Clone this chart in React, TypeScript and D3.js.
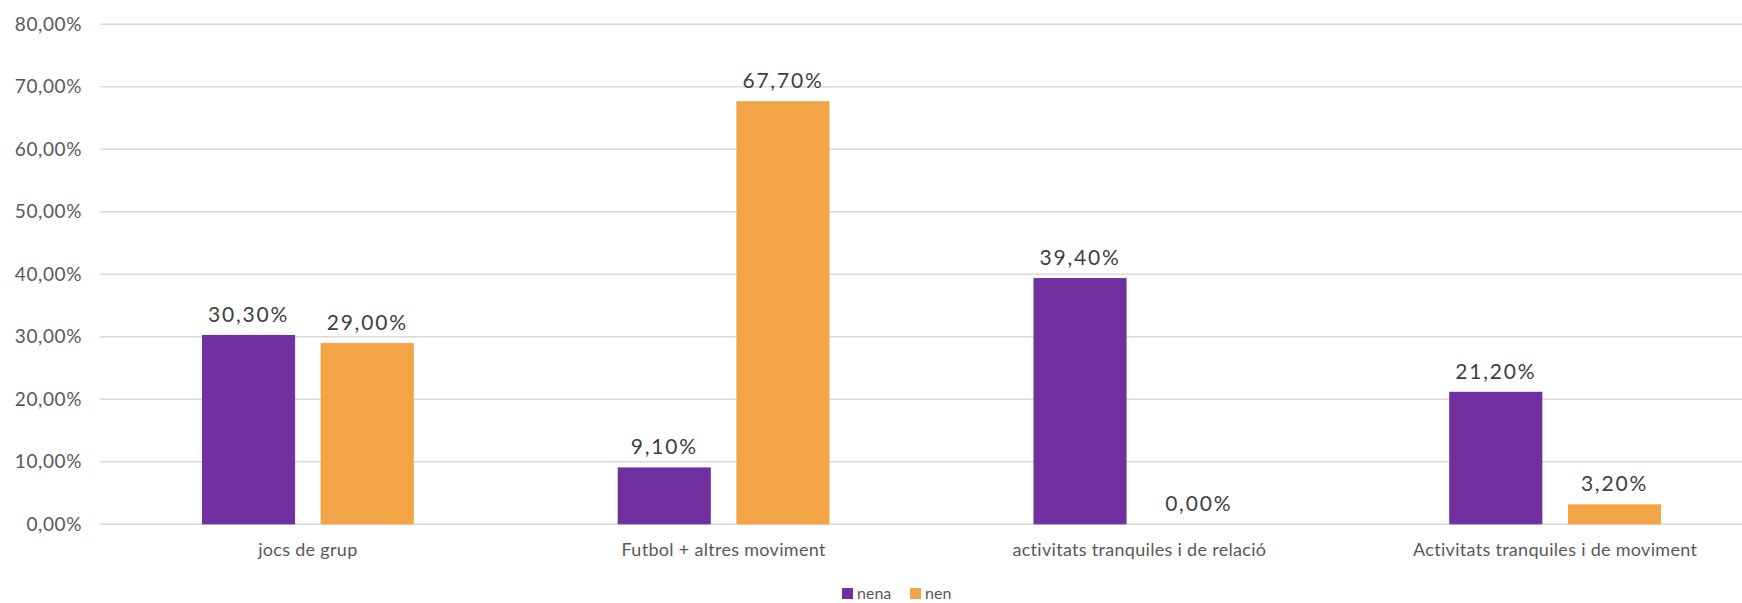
import React from "react";
import * as d3 from "d3";

const categories = [
  "jocs de grup",
  "Futbol + altres moviment",
  "activitats tranquiles i de relació",
  "Activitats tranquiles i de moviment",
];
const seriesNames = ["nena", "nen"];
const nenaValues = [30.3, 9.1, 39.4, 21.2];
const nenValues = [29.0, 67.7, 0.0, 3.2];
const yTicks = [0, 10, 20, 30, 40, 50, 60, 70, 80];
const colors = ["#7030A0", "#F3A446"];

const W = 1742;
const H = 603;
const FONT = "Lato, 'Open Sans', sans-serif";

const fmt = (v: number) => v.toFixed(2).replace(".", ",") + "%";

export default function App() {
  const x = d3.scaleBand<string>().domain(categories).range([100, 1763]).paddingInner(0).paddingOuter(0);
  const y = d3.scaleLinear().domain([0, 80]).range([524.3, 24.3]);
  const step = x.bandwidth();
  const barW = step * 0.224;
  const gap = step * 0.0615;
  const series = [nenaValues, nenValues];

  return (
    <svg width={W} height={H} style={{ position: "absolute", left: 0, top: 0, background: "#fff" }}>
      {yTicks.map((t) => (
        <g key={t}>
          <line x1={100} x2={W} y1={y(t)} y2={y(t)} stroke="#D9D9D9" strokeWidth={1.5} />
          <text x={82} y={y(t)} dy="0.35em" textAnchor="end" fontFamily={FONT} fontSize={19} letterSpacing={0.6} fill="#595959">
            {fmt(t)}
          </text>
        </g>
      ))}
      {categories.map((c, i) => {
        const cx = (x(c) as number) + step / 2;
        return (
          <g key={c}>
            {series.map((vals, s) => {
              const bx = s === 0 ? cx - gap / 2 - barW : cx + gap / 2;
              const v = vals[i];
              return (
                <g key={s}>
                  <rect x={bx} y={y(v)} width={barW} height={y(0) - y(v)} fill={colors[s]} />
                  <text
                    x={bx + barW / 2}
                    y={y(v) - 13}
                    textAnchor="middle"
                    fontFamily={FONT}
                    fontSize={21}
                    letterSpacing={1.8}
                    fill="#404040"
                  >
                    {fmt(v)}
                  </text>
                </g>
              );
            })}
            <text x={cx} y={556} textAnchor="middle" fontFamily={FONT} fontSize={18} letterSpacing={0.3} fill="#595959">
              {c}
            </text>
          </g>
        );
      })}
      {seriesNames.map((n, s) => {
        const lx = s === 0 ? 842 : 910;
        return (
          <g key={n}>
            <rect x={lx} y={588} width={11} height={11} fill={colors[s]} />
            <text x={lx + 15} y={599} fontFamily={FONT} fontSize={16} fill="#595959">
              {n}
            </text>
          </g>
        );
      })}
    </svg>
  );
}
